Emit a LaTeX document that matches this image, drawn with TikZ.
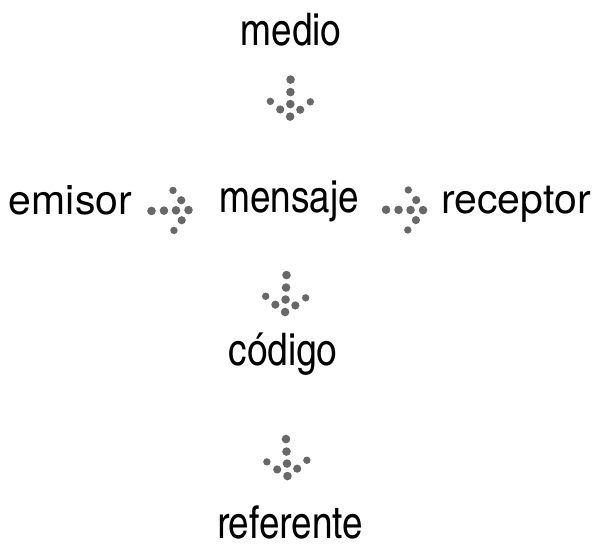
\documentclass[tikz,border=0pt]{standalone}
\usepackage{fontspec}
\setmainfont{TeX Gyre Heros}
\newfontfamily\cnfont{TeX Gyre Heros Cn}
\usepackage{tikz}
\usetikzlibrary{positioning}
\definecolor{dotgray}{RGB}{104,104,104}

\begin{document}
\begin{tikzpicture}[x=1pt,y=-1pt,
		wide/.style={inner sep=0pt,anchor=base,font=\fontsize{41}{41}\selectfont},
		narrow/.style={inner sep=0pt,anchor=base,font=\cnfont\fontsize{45}{45}\selectfont},
		dotarrow/.pic={
			\foreach \x in {-18.5,-6,6,18.5} \fill[dotgray] (\x,0) circle (4.3pt);
			\foreach \s in {1,-1} {
				\fill[dotgray] (11.5,10*\s) circle (4.1pt);
				\fill[dotgray] (3.5,20*\s) circle (3.7pt);
			}
		}]
			\useasboundingbox (0,0) rectangle (599,546);
			\node[narrow] (medio) at (291,45) {medio};
			\node[narrow] (mensaje) at (289,212) {mensaje};
			\node[wide] (emisor) at (70.5,214) {emisor};
			\node[wide] (receptor) at (516,213) {receptor};
			\node[narrow] (codigo) at (283,365) {código};
			\node[narrow] (referente) at (290,538) {referente};
			\path (medio.base) -- (mensaje.base) pic[pos=0.318,sloped,allow upside down] {dotarrow};
			\path (emisor.mid east) -- (mensaje.mid west) pic[pos=0.435,sloped,allow upside down] {dotarrow};
			\path (mensaje.mid east) -- (receptor.mid west) pic[pos=0.555,sloped,allow upside down] {dotarrow};
			\path (mensaje.base) -- (codigo.base) pic[pos=0.533,sloped,allow upside down] {dotarrow};
			\path (codigo.base) -- (referente.base) pic[pos=0.535,sloped,allow upside down] {dotarrow};
		\end{tikzpicture}
\end{document}
